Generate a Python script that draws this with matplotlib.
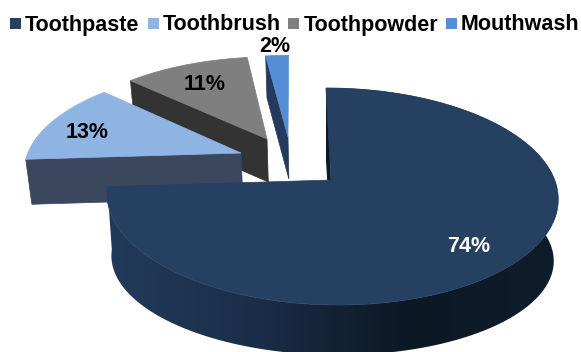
import numpy as np
import matplotlib
matplotlib.use("Agg")
import matplotlib.pyplot as plt
from matplotlib.colors import LinearSegmentedColormap
from matplotlib.patches import Polygon, Rectangle

plt.rcParams['font.family'] = ['Liberation Sans', 'DejaVu Sans']

labels = ["Toothpaste", "Toothbrush", "Toothpowder", "Mouthwash"]
values = [74, 13, 11, 2]
top_colors = ["#254061", "#8eb4e3", "#7f7f7f", "#558ed5"]
cut_colors = ["#0c1a28", "#3a475c", "#333333", "#24395c"]
label_colors = ["white", "black", "black", "black"]

# slice apex on the pie plane, and wall height in pixels
explode = [(0.0, 0.0), (-0.4135, 0.265), (-0.2945, 0.4116), (-0.1944, 0.433)]
depth = [63, 45, 43, 42]
label_pos = [(469, 246), (87, 133), (205, 84), (275, 47)]

legend_box_x = [10, 148, 288, 446]
legend_text_x = [25, 163, 304, 461]

# perspective of the pie plane
cx, cy = 331, 180
a, b = 223.0, 106.0
k, m, skew = 0.152, -0.003, -5.8

wall_cmap = LinearSegmentedColormap.from_list(
    "wall", ["#223a5a", "#1a2e49", "#0c1824", "#0f1d2b"])


def project(u, v):
    w = 1 + k * v + m * u
    return cx + (a * u + skew * v) / w, cy - b * v / w


def lower(x, y, d, squash=0.0):
    # same point on the underside of the pie
    return 332 + (x - 332) * 0.98, y + d - squash * (y - 187)


def arc(start, stop, off, n=160):
    t = np.radians(np.linspace(start, stop, n))
    return project(off[0] + np.sin(t), off[1] + np.cos(t))


fig = plt.figure(figsize=(5.81, 3.52), dpi=100)
ax = fig.add_axes([0, 0, 1, 1])
ax.axis("off")

edges = np.cumsum([0] + values) * 3.6

# back to front, so nearer slices cover the walls behind them
for i in [3, 2, 1, 0]:
    off = explode[i]
    ox, oy = project(*off)
    xs, ys = arc(edges[i], edges[i + 1], off)

    if i == 0:
        # curved outer wall, shaded left to right
        xl, yl = lower(xs, ys, depth[i], 0.11)
        outline = np.column_stack([np.r_[xs, xl[::-1]], np.r_[ys, yl[::-1]]])
        wall = Polygon(outline, fc="none", ec="none", transform=ax.transData)
        ax.add_patch(wall)
        shade = ax.imshow(np.linspace(0, 1, 256).reshape(1, -1), cmap=wall_cmap,
                          extent=(107, 557, 352, 0), aspect="auto")
        shade.set_clip_path(wall)
        # cut face at twelve o'clock shows as a thin dark sliver
        px, py = xs[0], ys[0]
        qx, qy = lower(px, py, depth[i], 0.11)
        rx, ry = lower(ox, oy, depth[i], 0.11)
        ax.add_patch(Polygon([(ox, oy), (px, py), (qx, qy), (rx, ry)],
                             fc=cut_colors[i], ec="none"))
    else:
        # flat cut face on the leading radial edge
        px, py = xs[0], ys[0]
        qx, qy = lower(px, py, depth[i])
        rx, ry = lower(ox, oy, depth[i])
        ax.add_patch(Polygon([(ox, oy), (px, py), (qx, qy), (rx, ry)],
                             fc=cut_colors[i], ec=cut_colors[i], lw=0.5))

    top = np.column_stack([np.r_[ox, xs], np.r_[oy, ys]])
    ax.add_patch(Polygon(top, fc=top_colors[i], ec=top_colors[i], lw=0.5))

ax.set_xlim(0, 581)
ax.set_ylim(352, 0)

for i in range(4):
    ax.add_patch(Rectangle((legend_box_x[i], 18), 11, 11, fc=top_colors[i], ec="none"))
    ax.text(legend_text_x[i], 25, labels[i], fontsize=15.5, fontweight="bold",
            va="center", ha="left", color="black")
    ax.text(label_pos[i][0], label_pos[i][1], f"{values[i]}%", fontsize=15.5,
            fontweight="bold", va="center", ha="center", color=label_colors[i])

fig.savefig("out.png", dpi=100)
